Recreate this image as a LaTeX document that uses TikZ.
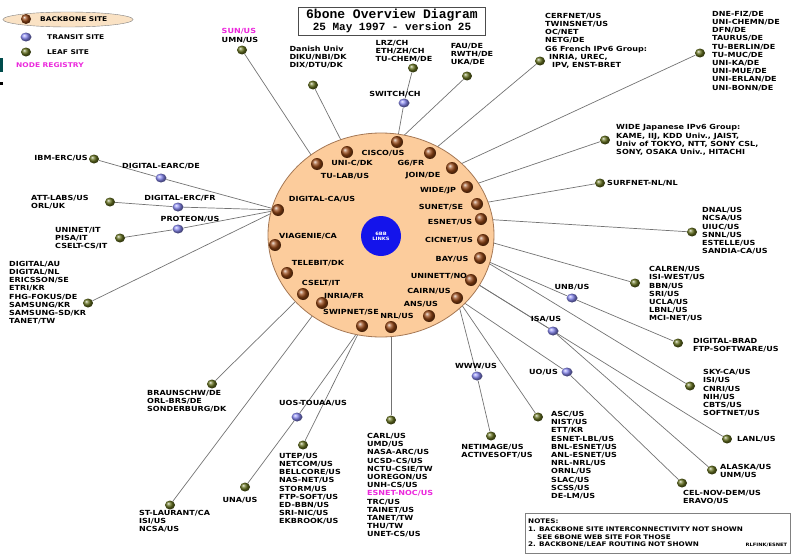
\documentclass[tikz,border=0pt]{standalone}
\usepackage{fontspec}
\setmainfont{DejaVu Sans}
\newfontfamily\sitefont[FakeStretch=1.15]{DejaVu Sans}
\newfontfamily\titlefont{Liberation Mono}
\usetikzlibrary{shapes.geometric,backgrounds}

\definecolor{peach}{RGB}{252,204,156}
\definecolor{legendpeach}{RGB}{250,226,196}
\definecolor{rimbrown}{RGB}{165,120,85}
\definecolor{bbbrown}{RGB}{150,70,20}
\definecolor{leafgreen}{RGB}{100,112,30}
\definecolor{transblue}{RGB}{135,135,240}
\definecolor{coreblue}{RGB}{20,20,235}
\definecolor{linkgray}{RGB}{115,115,115}
\definecolor{regpink}{RGB}{235,40,220}

\begin{document}
\begin{tikzpicture}[x=1pt,y=-1pt,
  backbone/.style={circle,inner sep=0pt,minimum size=12pt,shading=ball,ball color=bbbrown},
  transit/.style={ellipse,inner sep=0pt,minimum width=11pt,minimum height=9pt,shading=ball,ball color=transblue},
  leaf/.style={ellipse,inner sep=0pt,minimum width=10pt,minimum height=9pt,shading=ball,ball color=leafgreen},
  site/.style={font=\sitefont\bfseries\fontsize{7}{8.2}\selectfont,inner sep=0pt,align=left},
  legend/.style={site,font=\sitefont\bfseries\fontsize{6.5}{7}\selectfont},
  link/.style={draw=linkgray,line width=0.7pt}]
  \useasboundingbox (0,0) rectangle (793,554);

  % legend
  \node[ellipse,draw=gray,fill=legendpeach,minimum width=130pt,minimum height=15pt,inner sep=0pt] (legend ring) at (68,19.5) {};
  \node[backbone,minimum size=10pt] (legend backbone) at (26,19) {};
  \node[legend,anchor=west] (legend backbone text) at (40,19) {BACKBONE SITE};
  \node[transit] (legend transit) at (26,37) {};
  \node[legend,anchor=west] (legend transit text) at (47,37) {TRANSIT SITE};
  \node[leaf] (legend leaf) at (26,52) {};
  \node[legend,anchor=west] (legend leaf text) at (47,52) {LEAF SITE};
  \node[legend,anchor=west,text=regpink] (legend registry) at (16,65) {NODE REGISTRY};
  \fill[teal!60!black] (0,58) rectangle (3,72);
  \fill[black] (0,82) rectangle (3,85);

  \node[draw=gray!60!black,line width=0.8pt,minimum width=187pt,minimum height=28pt,inner sep=1pt,align=center,font=\titlefont\bfseries] (title) at (392,21)
    {{\fontsize{13}{13}\selectfont 6bone Overview Diagram}\\{\fontsize{11}{13}\selectfont 25 May 1997 - version 25}};

  % backbone ring
  \node[ellipse,draw=rimbrown,fill=peach,line width=0.8pt,minimum width=226pt,minimum height=204pt] (ring) at (381,235) {};
  \node[circle,fill=coreblue,minimum size=40pt,inner sep=0pt,align=center,text=white,font=\sitefont\bfseries\fontsize{4.5}{5}\selectfont] (core) at (381,236) {6BB\\LINKS};

  \node[backbone] (cisco) at (397,142) {};
  \node[site] (cisco text) at (383,153) {CISCO/US};
  \node[backbone] (unic) at (347,152) {};
  \node[site] (unic text) at (352,163) {UNI-C/DK};
  \node[backbone] (tulab) at (317,164) {};
  \node[site] (tulab text) at (345,176) {TU-LAB/US};
  \node[backbone] (gsix) at (430,153) {};
  \node[site] (gsix text) at (411,163) {G6/FR};
  \node[backbone] (join) at (452,168) {};
  \node[site] (join text) at (423,176) {JOIN/DE};
  \node[backbone] (wide) at (467,187) {};
  \node[site] (wide text) at (438,191) {WIDE/JP};
  \node[backbone] (sunet) at (477,204) {};
  \node[site] (sunet text) at (441,207) {SUNET/SE};
  \node[backbone] (esnet) at (481,219) {};
  \node[site] (esnet text) at (450,222) {ESNET/US};
  \node[backbone] (cicnet) at (483,240) {};
  \node[site] (cicnet text) at (449,240) {CICNET/US};
  \node[backbone] (bay) at (480,258) {};
  \node[site] (bay text) at (452,259) {BAY/US};
  \node[backbone] (uninett) at (471,280) {};
  \node[site] (uninett text) at (439,276) {UNINETT/NO};
  \node[backbone] (cairn) at (457,298) {};
  \node[site] (cairn text) at (429,291) {CAIRN/US};
  \node[backbone] (ans) at (429,316) {};
  \node[site] (ans text) at (421,304) {ANS/US};
  \node[backbone] (nrl) at (391,327) {};
  \node[site] (nrl text) at (397,316) {NRL/US};
  \node[backbone] (swipnet) at (362,326) {};
  \node[site] (swipnet text) at (351,312) {SWIPNET/SE};
  \node[backbone] (inria) at (322,303) {};
  \node[site] (inria text) at (344,296) {INRIA/FR};
  \node[backbone] (cselt) at (303,294) {};
  \node[site] (cselt text) at (321,283) {CSELT/IT};
  \node[backbone] (telebit) at (287,273) {};
  \node[site] (telebit text) at (318,263) {TELEBIT/DK};
  \node[backbone] (viagenie) at (275,245) {};
  \node[site] (viagenie text) at (308,236) {VIAGENIE/CA};
  \node[backbone] (digital) at (278,210) {};
  \node[site] (digital text) at (322,199) {DIGITAL-CA/US};

  % upper sites
  \node[leaf] (sun) at (242,50) {};
  \node[site,anchor=south] (sun text) at (240,43) {\textcolor{regpink}{SUN/US}\\UMN/US};
  \node[leaf] (danish) at (313,85) {};
  \node[site] (danish text) at (318,57) {Danish Univ\\DIKU/NBI/DK\\DIX/DTU/DK};
  \node[leaf] (lrz) at (413,68) {};
  \node[site] (lrz text) at (404,51) {LRZ/CH\\ETH/ZH/CH\\TU-CHEM/DE};
  \node[transit] (switch) at (404,103) {};
  \node[site] (switch text) at (395,94) {SWITCH/CH};
  \node[leaf] (fau) at (467,76) {};
  \node[site] (fau text) at (472,54) {FAU/DE\\RWTH/DE\\UKA/DE};
  \node[leaf] (cerfnet) at (540,61) {};
  \node[site,anchor=north west] (cerfnet text) at (545,13) {CERFNET/US\\TWINSNET/US\\OC/NET\\NETG/DE\\G6 French IPv6 Group:\\\hspace*{4pt}INRIA, UREC,\\\hspace*{7pt}IPV, ENST-BRET};
  \node[leaf] (dnefiz) at (700,53) {};
  \node[site,anchor=north west] (dnefiz text) at (712,11) {DNE-FIZ/DE\\UNI-CHEMN/DE\\DFN/DE\\TAURUS/DE\\TU-BERLIN/DE\\TU-MUC/DE\\UNI-KA/DE\\UNI-MUE/DE\\UNI-ERLAN/DE\\UNI-BONN/DE};

  % right sites
  \node[leaf] (wide group) at (605,140) {};
  \node[site,anchor=west] (wide group text) at (616,140) {WIDE Japanese IPv6 Group:\\KAME, IIJ, KDD Univ., JAIST,\\Univ of TOKYO, NTT, SONY CSL,\\SONY, OSAKA Univ., HITACHI};
  \node[leaf] (surfnet) at (600,183) {};
  \node[site,anchor=west] (surfnet text) at (607,183) {SURFNET-NL/NL};
  \node[leaf] (dnal) at (692,232) {};
  \node[site,anchor=west] (dnal text) at (702,231) {DNAL/US\\NCSA/US\\UIUC/US\\SNNL/US\\ESTELLE/US\\SANDIA-CA/US};
  \node[leaf] (calren) at (635,283) {};
  \node[site,anchor=west] (calren text) at (649,294) {CALREN/US\\ISI-WEST/US\\BBN/US\\SRI/US\\UCLA/US\\LBNL/US\\MCI-NET/US};
  \node[transit] (unb) at (572,298) {};
  \node[site] (unb text) at (572,287) {UNB/US};
  \node[leaf] (digibrad) at (678,343) {};
  \node[site,anchor=west] (digibrad text) at (693,345) {DIGITAL-BRAD\\FTP-SOFTWARE/US};
  \node[transit] (isa) at (553,331) {};
  \node[site] (isa text) at (546,319) {ISA/US};
  \node[leaf] (skyca) at (690,386) {};
  \node[site,anchor=west] (skyca text) at (703,393) {SKY-CA/US\\ISI/US\\CNRI/US\\NIH/US\\CBTS/US\\SOFTNET/US};
  \node[transit] (uo) at (567,372) {};
  \node[site,anchor=east] (uo text) at (558,372) {UO/US};
  \node[leaf] (asc) at (538,417) {};
  \node[site,anchor=north west] (asc text) at (551,411) {ASC/US\\NIST/US\\ETT/KR\\ESNET-LBL/US\\BNL-ESNET/US\\ANL-ESNET/US\\NRL-NRL/US\\ORNL/US\\SLAC/US\\SCSS/US\\DE-LM/US};
  \node[leaf] (lanl) at (727,439) {};
  \node[site,anchor=west] (lanl text) at (737,439) {LANL/US};
  \node[leaf] (alaska) at (712,470) {};
  \node[site,anchor=north west] (alaska text) at (720,464) {ALASKA/US\\UNM/US};
  \node[leaf] (celnov) at (682,483) {};
  \node[site,anchor=north west] (celnov text) at (683,490) {CEL-NOV-DEM/US\\ERAVO/US};

  % lower sites
  \node[transit] (www) at (477,376) {};
  \node[site] (www text) at (476,366) {WWW/US};
  \node[leaf] (netimage) at (491,436) {};
  \node[site,anchor=north] (netimage text) at (497,444) {NETIMAGE/US\\ACTIVESOFT/US};
  \node[leaf] (carl) at (391,420) {};
  \node[site,anchor=north west] (carl text) at (367,433) {CARL/US\\UMD/US\\NASA-ARC/US\\UCSD-CS/US\\NCTU-CSIE/TW\\UOREGON/US\\UNH-CS/US\\\textcolor{regpink}{ESNET-NOC/US}\\TRC/US\\TAINET/US\\TANET/TW\\THU/TW\\UNET-CS/US};
  \node[leaf] (utep) at (303,445) {};
  \node[site,anchor=north west] (utep text) at (279,453) {UTEP/US\\NETCOM/US\\BELLCORE/US\\NAS-NET/US\\STORM/US\\FTP-SOFT/US\\ED-BBN/US\\SRI-NIC/US\\EKBROOK/US};
  \node[transit] (touaa) at (297,417) {};
  \node[site] (touaa text) at (313,403) {UOS-TOUAA/US};
  \node[leaf] (una) at (245,487) {};
  \node[site] (una text) at (240,500) {UNA/US};
  \node[leaf] (stlaurent) at (170,505) {};
  \node[site,anchor=north west] (stlaurent text) at (139,510) {ST-LAURANT/CA\\ISI/US\\NCSA/US};
  \node[leaf] (braunschweig) at (212,384) {};
  \node[site,anchor=north west] (braunschweig text) at (147,390) {BRAUNSCHW/DE\\ORL-BRS/DE\\SONDERBURG/DK};

  % left sites
  \node[leaf] (digiau) at (88,303) {};
  \node[site,anchor=north west] (digiau text) at (9,261) {DIGITAL/AU\\DIGITAL/NL\\ERICSSON/SE\\ETRI/KR\\FHG-FOKUS/DE\\SAMSUNG/KR\\SAMSUNG-SD/KR\\TANET/TW};
  \node[leaf] (uninet) at (120,238) {};
  \node[site,anchor=north west] (uninet text) at (55,227) {UNINET/IT\\PISA/IT\\CSELT-CS/IT};
  \node[transit] (proteon) at (178,229) {};
  \node[site] (proteon text) at (190,219) {PROTEON/US};
  \node[leaf] (attlabs) at (110,202) {};
  \node[site,anchor=north west] (attlabs text) at (31,195) {ATT-LABS/US\\ORL/UK};
  \node[transit] (digital erc) at (178,207) {};
  \node[site] (digital erc text) at (180,198) {DIGITAL-ERC/FR};
  \node[leaf] (ibmerc) at (94,159) {};
  \node[site,anchor=east] (ibmerc text) at (88,158) {IBM-ERC/US};
  \node[transit] (digital earc) at (161,178) {};
  \node[site] (digital earc text) at (161,166) {DIGITAL-EARC/DE};

  \node[draw=gray,anchor=north west,text width=259pt,minimum height=40pt,inner sep=3pt,align=left,font=\sitefont\bfseries\fontsize{6.3}{7.6}\selectfont] (notes) at (525,513)
    {NOTES:\\1. BACKBONE SITE INTERCONNECTIVITY NOT SHOWN\\\hspace*{9pt}SEE 6BONE WEB SITE FOR THOSE\\2. BACKBONE/LEAF ROUTING NOT SHOWN\hfill{\fontsize{4.5}{5}\selectfont RLFINK/ESNET}};

  \begin{scope}[on background layer]
    \draw[link] (sun) -- (tulab);
    \draw[link] (danish) -- (unic);
    \draw[link] (lrz) -- (switch) -- (cisco);
    \draw[link] (fau) -- (cisco);
    \draw[link] (cerfnet) -- (gsix);
    \draw[link] (dnefiz) -- (join);
    \draw[link] (wide group) -- (wide);
    \draw[link] (surfnet) -- (sunet);
    \draw[link] (dnal) -- (esnet);
    \draw[link] (cicnet) -- (calren);
    \draw[link] (bay) -- (unb) -- (digibrad);
    \draw[link] (bay) -- (skyca);
    \draw[link] (uninett) -- (isa) -- (alaska);
    \draw[link] (uninett) -- (lanl);
    \draw[link] (cairn) -- (uo) -- (celnov);
    \draw[link] (cairn) -- (asc);
    \draw[link] (cairn) -- (www) -- (netimage);
    \draw[link] (nrl) -- (carl);
    \draw[link] (swipnet) -- (touaa) -- (una);
    \draw[link] (swipnet) -- (utep);
    \draw[link] (inria) -- (stlaurent);
    \draw[link] (cselt) -- (braunschweig);
    \draw[link] (digital) -- (digiau);
    \draw[link] (digital) -- (proteon) -- (uninet);
    \draw[link] (digital) -- (digital erc) -- (attlabs);
    \draw[link] (digital) -- (digital earc) -- (ibmerc);
  \end{scope}
\end{tikzpicture}
\end{document}
